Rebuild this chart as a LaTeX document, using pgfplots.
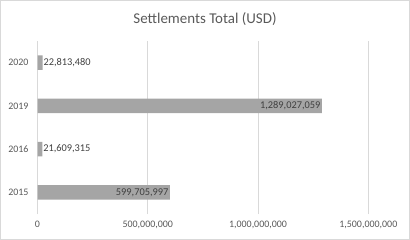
\documentclass[border=0pt]{standalone}
\usepackage{fontspec}
\setmainfont{Carlito}
\usepackage{pgfplots}
\pgfplotsset{compat=1.18}
\usepackage{pgfplotstable}
\definecolor{bargray}{HTML}{A5A5A5}
\definecolor{txt}{HTML}{595959}
\definecolor{lbl}{HTML}{404040}
\definecolor{gridc}{HTML}{D9D9D9}

% bars whose label sits inside the end
\pgfplotstableread{
y x label
0 599705997 599,705,997
2 1289027059 1,289,027,059
}\insidetable
% bars whose label sits outside the end
\pgfplotstableread{
y x label
1 21609315 21,609,315
3 22813480 22,813,480
}\outsidetable

\begin{document}
\begin{tikzpicture}
\path[use as bounding box] (0,0) rectangle (410bp,240bp);
\draw[gridc, line width=0.75bp] (0.4bp,0.4bp) rectangle (409.6bp,239.6bp);
\node[txt, font=\fontsize{15}{18}\selectfont] at (205bp,220.5bp) {Settlements Total (USD)};
\begin{axis}[
  at={(37.5bp,26bp)}, anchor=south west,
  scale only axis, width=330.8bp, height=173bp,
  xbar, bar width=14.6bp, bar shift=0pt,
  xmin=0, xmax=1.5e9,
  ymin=-0.5, ymax=3.5,
  ytick={0,1,2,3}, yticklabels={2015,2016,2019,2020},
  xtick={0,5e8,1e9,1.5e9},
  xticklabels={0,{500,000,000},{1,000,000,000},{1,500,000,000}},
  scaled x ticks=false,
  axis line style={draw=none},
  major tick length=0pt,
  xmajorgrids, grid style={gridc, line width=0.75bp},
  tick label style={txt, font=\fontsize{10}{12}\selectfont},
  yticklabel style={xshift=-5.5bp},
  xticklabel style={yshift=-4bp},
  clip=false,
]
\addplot[fill=bargray, draw=none,
  point meta=explicit symbolic,
  nodes near coords,
  nodes near coords style={anchor=east, lbl, font=\fontsize{10.4}{12}\selectfont, inner xsep=1.2bp},
] table[x=x, y=y, meta=label] {\insidetable};
\addplot[fill=bargray, draw=none,
  point meta=explicit symbolic,
  nodes near coords,
  nodes near coords style={anchor=west, lbl, font=\fontsize{10.4}{12}\selectfont, inner xsep=0.8bp},
] table[x=x, y=y, meta=label] {\outsidetable};
\end{axis}
\end{tikzpicture}
\end{document}
